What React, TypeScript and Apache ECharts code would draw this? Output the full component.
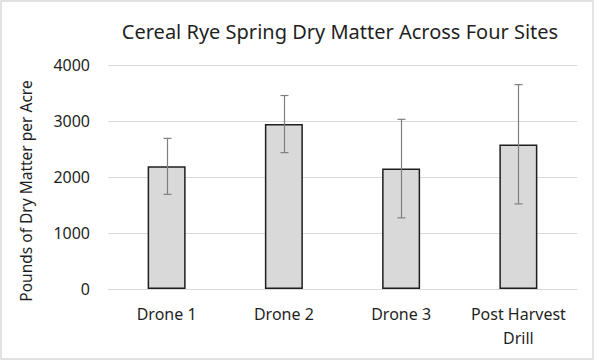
import React, { useEffect, useRef } from "react";
import * as echarts from "echarts";

const categories = ["Drone 1", "Drone 2", "Drone 3", "Post Harvest\nDrill"];
const means = [2190, 2945, 2150, 2580];
const errLow = [1690, 2435, 1270, 1520];
const errHigh = [2690, 3455, 3030, 3650];
const yTicks = { min: 0, max: 4000, interval: 1000 };
const titleText = "Cereal Rye Spring Dry Matter Across Four Sites";
const yAxisName = "Pounds of Dry Matter per Acre";

const FONT = "'Noto Sans', 'Open Sans', sans-serif";

export default function App() {
  const ref = useRef<HTMLDivElement>(null);
  useEffect(() => {
    if (!ref.current) return;
    const chart = echarts.init(ref.current, undefined, { renderer: "svg" });
    chart.setOption({
      animation: false,
      backgroundColor: "#ffffff",
      title: {
        text: titleText,
        left: 335,
        textAlign: "center",
        top: 16,
        textStyle: { fontFamily: FONT, fontSize: 20, fontWeight: "normal", color: "#1f1f1f" },
      },
      graphic: [
        {
          type: "rect",
          shape: { x: 1, y: 1, width: 592, height: 358 },
          style: { fill: "none", stroke: "#d9d9d9", lineWidth: 1.5 },
          silent: true,
        },
        {
          type: "text",
          x: 26,
          y: 191,
          rotation: Math.PI / 2,
          style: {
            text: yAxisName,
            fontFamily: FONT,
            fontSize: 15.5,
            fill: "#1f1f1f",
            textAlign: "center",
            textVerticalAlign: "middle",
          },
          silent: true,
        },
      ],
      grid: { left: 108, right: 20, top: 65, bottom: 72 },
      xAxis: {
        type: "category",
        data: categories,
        axisLine: { lineStyle: { color: "#d9d9d9", width: 1 } },
        axisTick: { show: false },
        axisLabel: {
          fontFamily: FONT,
          fontSize: 16,
          color: "#1f1f1f",
          margin: 13,
          lineHeight: 24,
          interval: 0,
        },
      },
      yAxis: {
        type: "value",
        min: yTicks.min,
        max: yTicks.max,
        interval: yTicks.interval,
        axisLine: { show: false },
        axisTick: { show: false },
        splitLine: { lineStyle: { color: "#d9d9d9", width: 1 } },
        axisLabel: {
          fontFamily: FONT,
          fontSize: 16,
          color: "#1f1f1f",
          margin: 18,
          formatter: (v: number) => String(v),
        },
      },
      series: [
        {
          type: "bar",
          data: means,
          barWidth: 38,
          itemStyle: { color: "#d9d9d9", borderColor: "#1f1f1f", borderWidth: 1.5 },
        },
        {
          type: "custom",
          data: categories.map((_, i) => [i, errLow[i], errHigh[i]]),
          z: 10,
          renderItem: (params: any, api: any) => {
            const x = api.value(0);
            const lo = api.coord([x, api.value(1)]);
            const hi = api.coord([x, api.value(2)]);
            const cx = Math.round(lo[0]) + 0.5;
            const cap = 4;
            const style = { stroke: "#7f7f7f", lineWidth: 1.2 };
            return {
              type: "group",
              children: [
                { type: "line", shape: { x1: cx, y1: hi[1], x2: cx, y2: lo[1] }, style },
                { type: "line", shape: { x1: cx - cap, y1: hi[1], x2: cx + cap, y2: hi[1] }, style },
                { type: "line", shape: { x1: cx - cap, y1: lo[1], x2: cx + cap, y2: lo[1] }, style },
              ],
            };
          },
        },
      ],
    });
    return () => chart.dispose();
  }, []);
  return (
    <div
      ref={ref}
      style={{ position: "fixed", left: 0, top: 0, width: 597, height: 361 }}
    />
  );
}
